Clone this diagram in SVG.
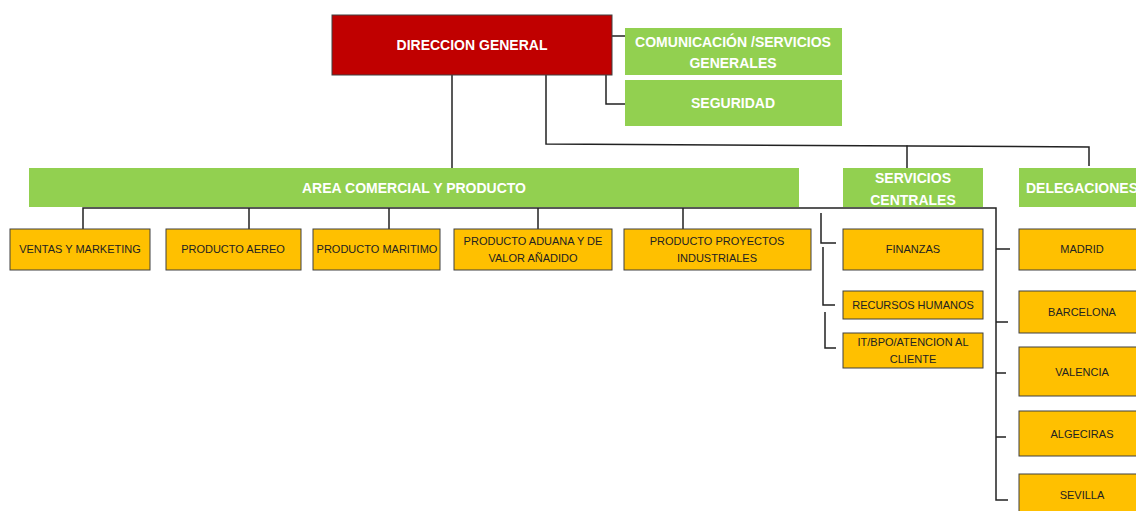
<svg xmlns="http://www.w3.org/2000/svg" width="1136" height="511" viewBox="0 0 1136 511">
<style>
.red{fill:#C00000;stroke:#404040;stroke-width:1}
.grn{fill:#92D050}
.org{fill:#FFC000;stroke:#404040;stroke-width:1}
.tw{font-family:"Liberation Sans",Arial,sans-serif;font-weight:bold;fill:#fff;text-anchor:middle}
.tb{font-family:"Liberation Sans",Arial,sans-serif;font-size:11px;fill:#222;text-anchor:middle}
.ln{fill:none;stroke:#222;stroke-width:1.5}
</style>
<rect width="1136" height="511" fill="#fff"/>
<g id="connectors">
<path class="ln" d="M612,36 H625"/>
<path class="ln" d="M606,75 V104 H625"/>
<path class="ln" d="M452,75 V168"/>
<path class="ln" d="M546,75 V144 L1089,147 V166"/>
<path class="ln" d="M907,145.5 V168"/>
<path class="ln" d="M83,229 V208 H996 V500 H1008"/>
<path class="ln" d="M249,208 V229 M389,208 V229 M538,208 V229 M683,208 V229"/>
<path class="ln" d="M821,213 V243 H836"/>
<path class="ln" d="M823,247 V305 H835"/>
<path class="ln" d="M825,312 V348 H836"/>
<path class="ln" d="M996,249 H1010 M996,322 H1008 M996,373 H1006 M996,437 H1006"/>
</g>
<g id="direccion"><rect class="red" x="332" y="15" width="280" height="60"/><text class="tw" x="472" y="50" font-size="14">DIRECCION GENERAL</text></g>
<g id="comunicacion"><rect class="grn" x="625" y="28" width="217" height="47"/><text class="tw" x="733" y="47" font-size="14">COMUNICACIÓN /SERVICIOS</text><text class="tw" x="733" y="68" font-size="14">GENERALES</text></g>
<g id="seguridad"><rect class="grn" x="625" y="80" width="217" height="46"/><text class="tw" x="733" y="108" font-size="14">SEGURIDAD</text></g>
<g id="area"><rect class="grn" x="29" y="168" width="770" height="39"/><text class="tw" x="414" y="193" font-size="14">AREA COMERCIAL Y PRODUCTO</text></g>
<g id="servicios"><rect class="grn" x="843" y="168" width="140" height="39"/><text class="tw" x="913" y="183" font-size="14">SERVICIOS</text><text class="tw" x="913" y="205" font-size="14">CENTRALES</text></g>
<g id="delegaciones"><rect class="grn" x="1019" y="168" width="130" height="39"/><text class="tw" x="1082" y="193" font-size="14">DELEGACIONES</text></g>
<g id="ventas"><rect class="org" x="10" y="229" width="140" height="41"/><text class="tb" x="80" y="253">VENTAS Y MARKETING</text></g>
<g id="aereo"><rect class="org" x="166" y="229" width="135" height="41"/><text class="tb" x="233" y="253">PRODUCTO AEREO</text></g>
<g id="maritimo"><rect class="org" x="313" y="229" width="127" height="41"/><text class="tb" x="377" y="253">PRODUCTO MARITIMO</text></g>
<g id="aduana"><rect class="org" x="454" y="229" width="158" height="41"/><text class="tb" x="533" y="245">PRODUCTO ADUANA Y DE</text><text class="tb" x="533" y="262">VALOR AÑADIDO</text></g>
<g id="proyectos"><rect class="org" x="624" y="229" width="187" height="41"/><text class="tb" x="717" y="245">PRODUCTO PROYECTOS</text><text class="tb" x="717" y="262">INDUSTRIALES</text></g>
<g id="finanzas"><rect class="org" x="843" y="229" width="140" height="41"/><text class="tb" x="913" y="253">FINANZAS</text></g>
<g id="rrhh"><rect class="org" x="843" y="291" width="140" height="28"/><text class="tb" x="913" y="309">RECURSOS HUMANOS</text></g>
<g id="it"><rect class="org" x="843" y="333" width="140" height="35"/><text class="tb" x="913" y="346">IT/BPO/ATENCION AL</text><text class="tb" x="913" y="363">CLIENTE</text></g>
<g id="madrid"><rect class="org" x="1019" y="229" width="130" height="41"/><text class="tb" x="1082" y="253">MADRID</text></g>
<g id="barcelona"><rect class="org" x="1019" y="291" width="130" height="42"/><text class="tb" x="1082" y="316">BARCELONA</text></g>
<g id="valencia"><rect class="org" x="1019" y="347" width="130" height="49"/><text class="tb" x="1082" y="376">VALENCIA</text></g>
<g id="algeciras"><rect class="org" x="1019" y="411" width="130" height="45"/><text class="tb" x="1082" y="438">ALGECIRAS</text></g>
<g id="sevilla"><rect class="org" x="1019" y="474" width="130" height="45"/><text class="tb" x="1082" y="499">SEVILLA</text></g>
</svg>
